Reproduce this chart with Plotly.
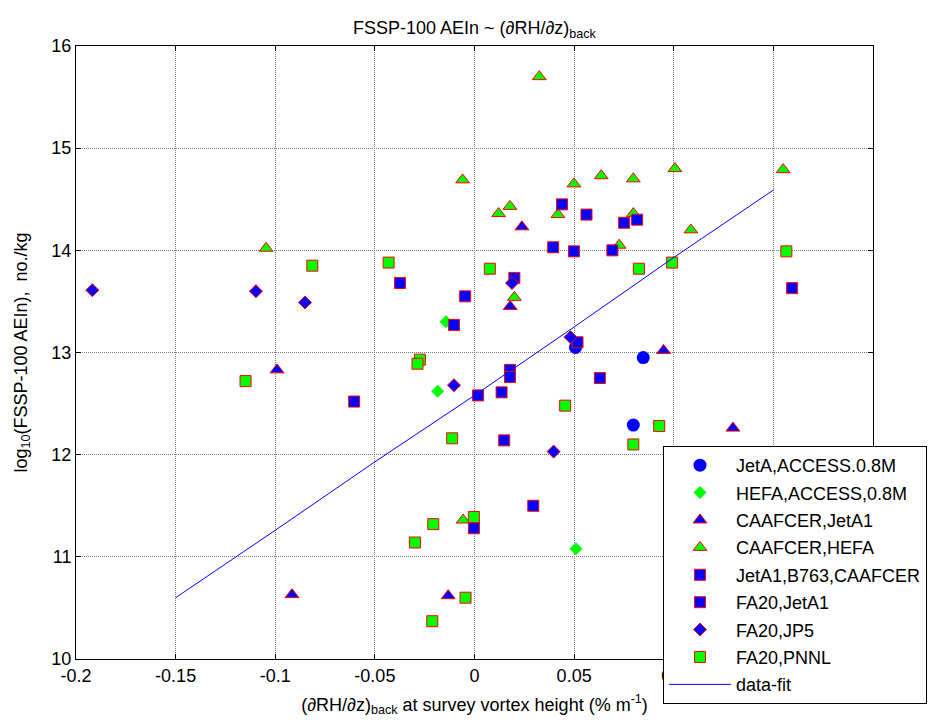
import plotly.graph_objects as go

# ---- data ----
jeta_access_x = [0.0507, 0.0847, 0.0797]
jeta_access_y = [13.05, 12.95, 12.29]

hefa_access_x = [-0.0143, -0.0185, 0.0509]
hefa_access_y = [13.30, 12.62, 11.08]

caafcer_jeta1_x = [-0.0991, 0.0179, 0.0238, 0.0949, 0.1297, -0.0916, -0.0132]
caafcer_jeta1_y = [12.83, 13.45, 14.23, 13.02, 12.26, 10.63, 10.62]

caafcer_hefa_x = [0.0325, -0.1046, -0.0060, 0.0121, 0.0178, 0.0200, 0.0499, 0.0419,
                  0.0636, 0.0797, 0.0797, 0.0726, 0.1006, 0.1086, 0.1549, -0.0057]
caafcer_hefa_y = [15.70, 14.02, 14.69, 14.36, 14.43, 13.54, 14.65, 14.35,
                  14.73, 14.70, 14.36, 14.05, 14.80, 14.20, 14.79, 11.36]

jeta1_b763_x = [0.0439, 0.0562, 0.0751, 0.0816, 0.0395, 0.0499, 0.0692, 0.0200]
jeta1_b763_y = [14.45, 14.35, 14.27, 14.30, 14.03, 13.99, 14.00, 13.73]

fa20_jeta1_x = [-0.0374, -0.0047, -0.0103, 0.0517, 0.0178, 0.0178, 0.0018, 0.0136,
                0.0629, 0.0149, -0.0604, -0.0003, 0.0295, 0.1594]
fa20_jeta1_y = [13.68, 13.55, 13.27, 13.10, 12.83, 12.76, 12.58, 12.61,
                12.75, 12.14, 12.52, 11.28, 11.50, 13.63]

fa20_jp5_x = [-0.1918, -0.1097, -0.0851, 0.0482, -0.0103, 0.0397, 0.0188]
fa20_jp5_y = [13.61, 13.60, 13.49, 13.15, 12.68, 12.03, 13.68]

fa20_pnnl_x = [-0.0814, -0.1149, -0.0431, 0.0077, 0.0825, 0.0992, -0.0274, -0.0286,
               0.0455, -0.0112, 0.0927, 0.0797, -0.0003, -0.0207, -0.0299, -0.0045,
               -0.0212, 0.1565]
fa20_pnnl_y = [13.85, 12.72, 13.88, 13.82, 13.82, 13.88, 12.93, 12.89,
               12.48, 12.16, 12.28, 12.10, 11.39, 11.32, 11.14, 10.60,
               10.37, 13.99]

fit_x = [-0.15, -0.10, -0.05, 0.0, 0.05, 0.10, 0.15]
fit_y = [10.60, 11.26, 11.93, 12.58, 13.25, 13.93, 14.59]

x_tickvals = [-0.2, -0.15, -0.1, -0.05, 0, 0.05, 0.1, 0.15, 0.2]
x_ticktext = ["-0.2", "-0.15", "-0.1", "-0.05", "0", "0.05", "0.1", "0.15", "0.2"]
y_tickvals = [10, 11, 12, 13, 14, 15, 16]
y_ticktext = ["10", "11", "12", "13", "14", "15", "16"]

BLUE = "rgb(0,0,255)"
GREEN = "rgb(0,255,0)"
RED = "rgb(255,0,0)"

fig = go.Figure()

def add(x, y, name, symbol, color, size, edge=True):
    fig.add_trace(go.Scatter(
        x=x, y=y, mode="markers", name=name, legendgroup=name,
        marker=dict(symbol=symbol, color=color, size=size,
                    line=dict(color=RED if edge else color, width=1 if edge else 0)),
    ))

add(jeta_access_x, jeta_access_y, "JetA,ACCESS.0.8M", "circle", BLUE, 13, edge=False)
add(hefa_access_x, hefa_access_y, "HEFA,ACCESS,0.8M", "diamond", GREEN, 10, edge=False)
add(caafcer_jeta1_x, caafcer_jeta1_y, "CAAFCER,JetA1", "triangle-up", BLUE, 12)
add(caafcer_hefa_x, caafcer_hefa_y, "CAAFCER,HEFA", "triangle-up", GREEN, 12)
add(jeta1_b763_x, jeta1_b763_y, "JetA1,B763,CAAFCER", "square", BLUE, 11)
add(fa20_jeta1_x, fa20_jeta1_y, "FA20,JetA1", "square", BLUE, 11)
add(fa20_jp5_x, fa20_jp5_y, "FA20,JP5", "diamond", BLUE, 10)
add(fa20_pnnl_x, fa20_pnnl_y, "FA20,PNNL", "square", GREEN, 11)

fig.add_trace(go.Scatter(x=fit_x, y=fit_y, mode="lines", name="data-fit",
                         legendgroup="data-fit",
                         line=dict(color=BLUE, width=1)))

FONT = "Arial, Liberation Sans, sans-serif"
axis_common = dict(
    showline=True, linecolor="black", linewidth=1, mirror="ticks",
    ticks="inside", ticklen=5, tickcolor="black", tickwidth=1,
    showgrid=True, gridcolor="#7a7a7a", griddash="1px,1px", gridwidth=1,
    zeroline=False, tickfont=dict(size=18, color="black", family=FONT),
)

fig.update_layout(
    width=933, height=724,
    margin=dict(l=76, r=60, t=46, b=65, autoexpand=False),
    paper_bgcolor="white", plot_bgcolor="white",
    font=dict(family=FONT, size=18, color="black"),
    title=dict(text="FSSP-100 AEIn ~ (∂RH/∂z)<sub>back</sub>",
               x=0.5085, xanchor="center", y=0.962, yanchor="middle",
               font=dict(size=18, color="black", family=FONT)),
    xaxis=dict(range=[-0.2, 0.2], tickvals=x_tickvals, ticktext=x_ticktext,
               title=dict(text="(∂RH/∂z)<sub>back</sub> at survey vortex height (% m<sup>-1</sup>)",
                          standoff=13, font=dict(size=18, color="black", family=FONT)),
               **axis_common),
    yaxis=dict(range=[10, 16], tickvals=y_tickvals, ticktext=y_ticktext,
               title=dict(text="log<sub>10</sub>(FSSP-100 AEIn),  no./kg",
                          standoff=19, font=dict(size=18, color="black", family=FONT)),
               **axis_common),
    legend=dict(x=0.7365, y=0.3475, xanchor="left", yanchor="top",
                bgcolor="white", bordercolor="black", borderwidth=1,
                font=dict(size=18, color="black", family=FONT),
                itemwidth=62, tracegroupgap=1),
    showlegend=True,
)

fig.write_html("out.html")
